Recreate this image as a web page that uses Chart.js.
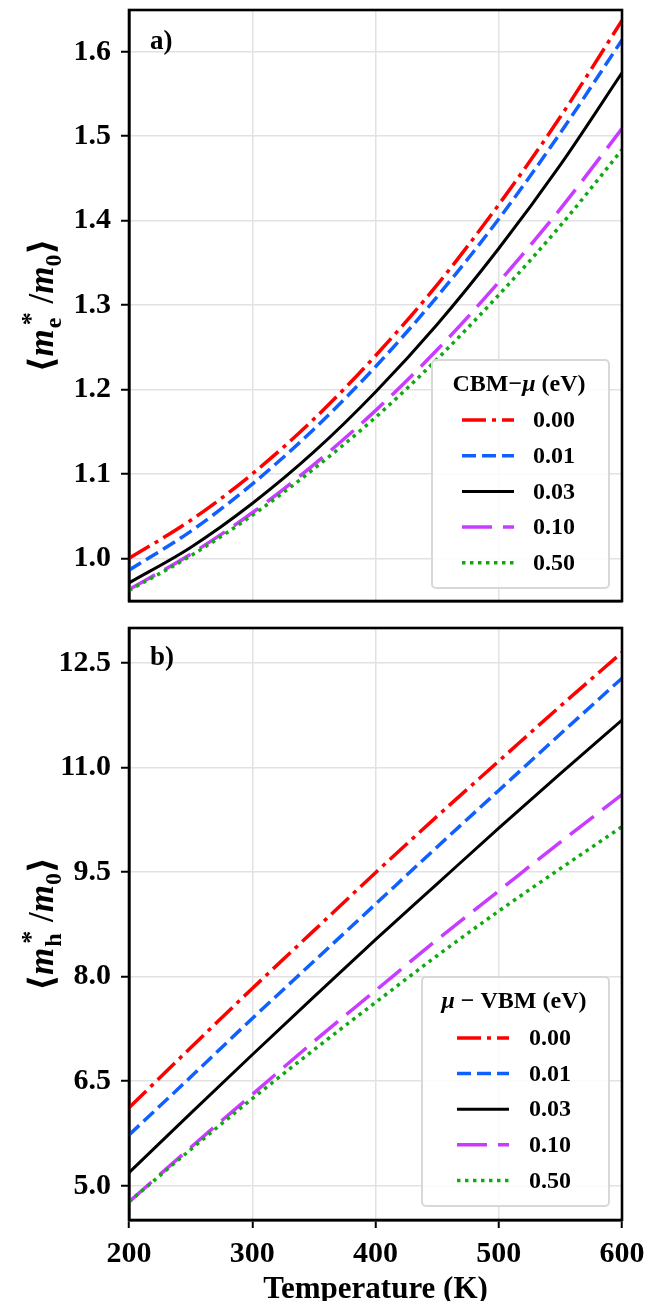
<!DOCTYPE html>
<html><head><meta charset="utf-8">
<script src="https://cdn.jsdelivr.net/npm/chart.js@4.4.1/dist/chart.umd.min.js"></script>
<style>
html,body{margin:0;padding:0;background:#fff;width:645px;height:1301px;overflow:hidden}
#c1{position:absolute;left:0;top:0}
#c2{position:absolute;left:0;top:615px}
</style></head><body>
<canvas id="c1" width="645" height="615"></canvas>
<canvas id="c2" width="645" height="686"></canvas>
<script>
// ---------- data ----------
const temperatures = [200, 250, 300, 350, 400, 450, 500, 550, 600];
const seriesLabels = ['0.00', '0.01', '0.03', '0.10', '0.50'];

const me_000 = [1.000, 1.045, 1.100, 1.165, 1.240, 1.324, 1.419, 1.523, 1.637];
const me_001 = [0.986, 1.032, 1.088, 1.153, 1.227, 1.310, 1.402, 1.504, 1.614];
const me_003 = [0.971, 1.013, 1.065, 1.126, 1.197, 1.277, 1.367, 1.466, 1.575];
const me_010 = [0.963, 1.005, 1.054, 1.111, 1.175, 1.247, 1.327, 1.414, 1.509];
const me_050 = [0.962, 1.003, 1.051, 1.106, 1.167, 1.236, 1.312, 1.394, 1.484];

const mh_000 = [6.12, 6.98, 7.83, 8.66, 9.49, 10.30, 11.09, 11.88, 12.65];
const mh_001 = [5.73, 6.56, 7.40, 8.22, 9.04, 9.86, 10.67, 11.48, 12.28];
const mh_003 = [5.19, 6.04, 6.88, 7.71, 8.53, 9.33, 10.13, 10.91, 11.68];
const mh_010 = [4.77, 5.55, 6.31, 7.07, 7.80, 8.53, 9.23, 9.93, 10.61];
const mh_050 = [4.77, 5.52, 6.25, 6.95, 7.63, 8.30, 8.94, 9.55, 10.15];

const xTickValues = [200, 300, 400, 500, 600];
const meTickValues = [1.0, 1.1, 1.2, 1.3, 1.4, 1.5, 1.6];
const meTickLabels = ['1.0', '1.1', '1.2', '1.3', '1.4', '1.5', '1.6'];
const mhTickValues = [5.0, 6.5, 8.0, 9.5, 11.0, 12.5];
const mhTickLabels = ['5.0', '6.5', '8.0', '9.5', '11.0', '12.5'];

// ---------- styles ----------
const seriesColors = ['#ff0000', '#1060ff', '#000000', '#c83cff', '#10aa10'];
const seriesDashes = [[24, 6, 4, 6], [14, 6], [], [30, 11], [3.5, 4.5]];
const seriesWidths = [3.5, 3.5, 3, 3.5, 3.5];
const FONT = '"Liberation Serif","Times New Roman","DejaVu Serif",serif';

function measurePieces(ctx, pieces) {
  let total = 0; const ws = [];
  for (const p of pieces) {
    let w;
    if (p.sup) {
      ctx.font = p.sup.font; const a = ctx.measureText(p.sup.t).width + (p.sup.dx || 0);
      ctx.font = p.sub.font; const b = ctx.measureText(p.sub.t).width;
      w = Math.max(a, b);
    } else { ctx.font = p.font; w = ctx.measureText(p.t).width; }
    w += (p.kern || 0);
    ws.push(w); total += w;
  }
  return { ws, total };
}
function drawPieces(ctx, pieces, cx, cy, rotate, baseline) {
  ctx.save(); ctx.translate(cx, cy); if (rotate) ctx.rotate(-Math.PI / 2);
  const { ws, total } = measurePieces(ctx, pieces);
  let x = -total / 2;
  ctx.fillStyle = '#000'; ctx.textAlign = 'left'; ctx.textBaseline = baseline || 'alphabetic';
  pieces.forEach((p, i) => {
    if (p.sup) {
      ctx.font = p.sup.font; ctx.fillText(p.sup.t, x + (p.sup.dx || 0), p.sup.dy);
      ctx.font = p.sub.font; ctx.fillText(p.sub.t, x, p.sub.dy);
    } else { ctx.font = p.font; ctx.fillText(p.t, x, p.dy || 0); }
    x += ws[i];
  });
  ctx.restore();
}

const B35 = `bold 35px ${FONT}`, BI35 = `bold italic 35px ${FONT}`;
function yTitle(subLetter) {
  return [
    { t: '⟨', font: B35 },
    { t: 'm', font: BI35, kern: 1 },
    { sup: { t: '*', font: `bold 26px ${FONT}`, dy: -14, dx: 3 }, sub: { t: subLetter, font: `bold 24px ${FONT}`, dy: 8 } },
    { t: ' /', font: B35 },
    { t: 'm', font: BI35 },
    { t: '0', font: `bold 24px ${FONT}`, dy: 8 },
    { t: '⟩', font: B35 }
  ];
}
const B24 = `bold 24px ${FONT}`, BI24 = `bold italic 24px ${FONT}`;

const decoPlugin = {
  id: 'deco',
  afterDatasetsDraw(chart, args, o) {
    const ctx = chart.ctx, a = chart.chartArea;
    ctx.save();
    ctx.strokeStyle = '#000'; ctx.lineWidth = 2.6;
    ctx.strokeRect(a.left, a.top, a.right - a.left, a.bottom - a.top);
    ctx.restore();
    const L = o.legend;
    ctx.save();
    ctx.beginPath();
    if (ctx.roundRect) ctx.roundRect(L.x, L.y, L.w, L.h, 4); else ctx.rect(L.x, L.y, L.w, L.h);
    ctx.fillStyle = 'rgba(255,255,255,0.85)'; ctx.fill();
    ctx.strokeStyle = '#d8d8d8'; ctx.lineWidth = 2; ctx.stroke();
    ctx.restore();
    drawPieces(ctx, L.title, L.titleX, L.titleY, false, 'middle');
    chart.data.datasets.forEach((ds, i) => {
      const y = L.rowY + i * L.rowGap;
      ctx.save();
      ctx.strokeStyle = ds.borderColor; ctx.lineWidth = ds.borderWidth;
      ctx.setLineDash(ds.borderDash || []); ctx.lineCap = 'butt';
      ctx.beginPath(); ctx.moveTo(L.lineX1, y); ctx.lineTo(L.lineX2, y); ctx.stroke();
      ctx.restore();
      ctx.save();
      ctx.fillStyle = '#000'; ctx.font = B24; ctx.textAlign = 'left'; ctx.textBaseline = 'middle';
      ctx.fillText(ds.label, L.textX, y + 1);
      ctx.restore();
    });
    ctx.save();
    ctx.fillStyle = '#000'; ctx.font = `bold 27px ${FONT}`; ctx.textAlign = 'left'; ctx.textBaseline = 'middle';
    ctx.fillText(o.panel, o.panelX, o.panelY);
    ctx.restore();
    drawPieces(ctx, o.yTitle, o.yTitleX, (a.top + a.bottom) / 2, true, 'alphabetic');
  }
};

function makeDatasets(arrays) {
  return arrays.map((arr, i) => ({
    label: seriesLabels[i],
    data: temperatures.map((t, k) => ({ x: t, y: arr[k] })),
    borderColor: seriesColors[i],
    borderWidth: seriesWidths[i],
    borderDash: seriesDashes[i],
    borderCapStyle: 'butt',
    pointRadius: 0,
    fill: false,
    cubicInterpolationMode: 'monotone',
    order: arrays.length - i
  }));
}

function makeChart(canvas, arrays, yMin, yMax, yVals, yLabels, showX, padding, deco) {
  const tickFont = { family: FONT, weight: 'bold', size: 30 };
  return new Chart(canvas, {
    type: 'line',
    data: { datasets: makeDatasets(arrays) },
    plugins: [decoPlugin],
    options: {
      responsive: false, animation: false, devicePixelRatio: 1,
      layout: { padding },
      plugins: { legend: { display: false }, tooltip: { enabled: false }, deco },
      scales: {
        x: {
          type: 'linear', min: 200, max: 600,
          afterBuildTicks: s => { s.ticks = xTickValues.map(v => ({ value: v })); },
          afterFit: s => { s.height = showX ? 81 : 0; s.paddingLeft = 0; s.paddingRight = 0; },
          grid: { color: '#e2e2e2', lineWidth: 1.5, drawTicks: showX, tickLength: 8, tickColor: '#000', tickWidth: 2 },
          border: { display: true, color: '#000', width: 2.6 },
          ticks: { display: showX, font: tickFont, color: '#000', padding: 8, maxRotation: 0, callback: (v, i) => String(xTickValues[i]) },
          title: { display: showX, text: 'Temperature (K)', color: '#000', font: { family: FONT, weight: 'bold', size: 31, lineHeight: 0.7 }, padding: 0 }
        },
        y: {
          type: 'linear', min: yMin, max: yMax,
          afterBuildTicks: s => { s.ticks = yVals.map(v => ({ value: v })); },
          afterFit: s => { s.width = 129; s.paddingTop = 0; s.paddingBottom = 0; },
          grid: { color: '#e2e2e2', lineWidth: 1.5, tickLength: 8, tickColor: '#000', tickWidth: 2 },
          border: { display: true, color: '#000', width: 2.6 },
          ticks: { font: tickFont, color: '#000', padding: 10, callback: (v, i) => yLabels[i] }
        }
      }
    }
  });
}

makeChart(document.getElementById('c1'),
  [me_000, me_001, me_003, me_010, me_050],
  0.9495, 1.6495, meTickValues, meTickLabels, false,
  { top: 10, right: 23, bottom: 14, left: 0 },
  {
    panel: 'a)', panelX: 150, panelY: 42, yTitle: yTitle('e'), yTitleX: 53,
    legend: {
      x: 432, y: 360, w: 177, h: 228,
      title: [{ t: 'CBM−', font: B24 }, { t: 'μ', font: BI24 }, { t: ' (eV)', font: B24 }],
      titleX: 519, titleY: 385,
      rowY: 420, rowGap: 35.7, lineX1: 462, lineX2: 514, textX: 533
    }
  });

makeChart(document.getElementById('c2'),
  [mh_000, mh_001, mh_003, mh_010, mh_050],
  4.51, 13.0, mhTickValues, mhTickLabels, true,
  { top: 13, right: 23, bottom: 0, left: 0 },
  {
    panel: 'b)', panelX: 150, panelY: 43, yTitle: yTitle('h'), yTitleX: 53,
    legend: {
      x: 422, y: 362, w: 187, h: 229,
      title: [{ t: 'μ', font: BI24 }, { t: ' − VBM (eV)', font: B24 }],
      titleX: 514, titleY: 387,
      rowY: 423, rowGap: 35.6, lineX1: 457, lineX2: 509, textX: 529
    }
  });
</script>
</body></html>
